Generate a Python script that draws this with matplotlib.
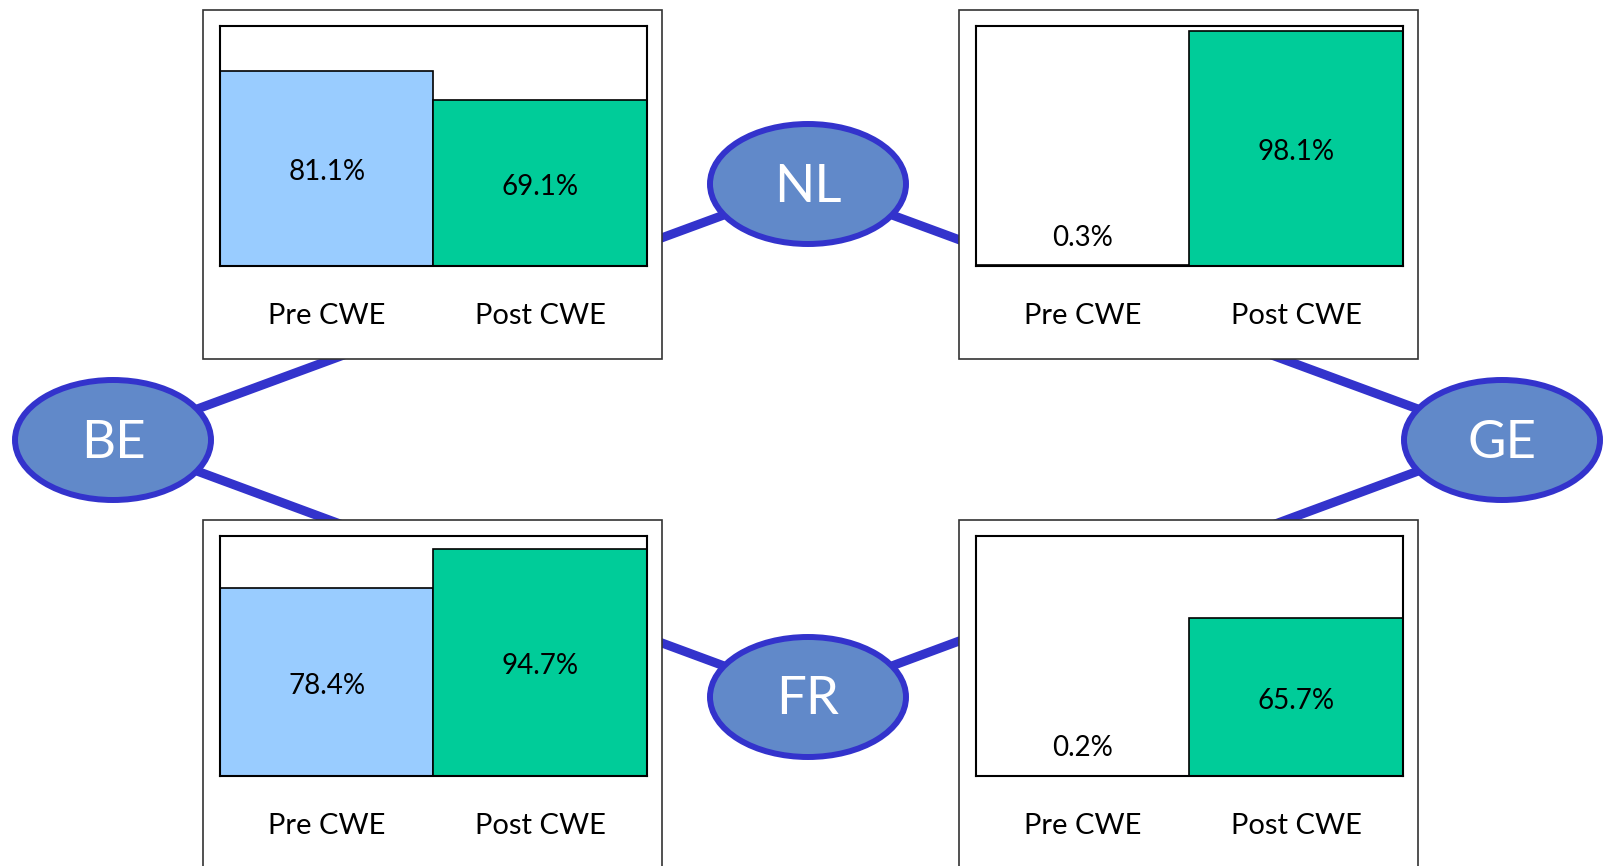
import matplotlib.pyplot as plt
from matplotlib.patches import Ellipse, Rectangle

# data
categories = ["Pre CWE", "Post CWE"]
panel_names = ["BE-NL", "NL-GE", "BE-FR", "FR-GE"]
pre_cwe = [81.1, 0.3, 78.4, 0.2]
post_cwe = [69.1, 98.1, 94.7, 65.7]
nodes = ["BE", "NL", "GE", "FR"]
links = [("BE", "NL"), ("NL", "GE"), ("GE", "FR"), ("FR", "BE")]

# layout (pixels)
W, H = 1608, 866
node_xy = {"BE": (113, 440), "NL": (808, 184), "GE": (1502, 440), "FR": (808, 697)}
panel_xy = [(203, 10), (959, 10), (203, 520), (959, 520)]  # outer box top-left
PANEL_W, PANEL_H = 459, 349
INNER_DX, INNER_DY, INNER_W, INNER_H = 17, 16, 427, 240

PRE_COLOR = "#99CCFF"
POST_COLOR = "#00CC99"
NODE_FILL = "#6189C9"
NODE_EDGE = "#3333CC"
FONT = ["Lato", "DejaVu Sans"]

fig = plt.figure(figsize=(W / 100, H / 100), dpi=100)
bg = fig.add_axes([0, 0, 1, 1])
bg.set_xlim(0, W)
bg.set_ylim(H, 0)
bg.axis("off")

for a, b in links:
    (x0, y0), (x1, y1) = node_xy[a], node_xy[b]
    bg.plot([x0, x1], [y0, y1], color=NODE_EDGE, lw=6.5, zorder=1, solid_capstyle="butt")

for px, py in panel_xy:
    bg.add_patch(Rectangle((px, py), PANEL_W, PANEL_H, facecolor="white",
                           edgecolor="#333333", lw=1.2, zorder=2))

for name in nodes:
    x, y = node_xy[name]
    bg.add_patch(Ellipse((x, y), 196, 120, facecolor=NODE_FILL,
                         edgecolor=NODE_EDGE, lw=4.3, zorder=3))
    bg.text(x, y + 3, name, color="white", fontsize=38, ha="center", va="center",
            family=FONT, zorder=4)


def draw_panel(px, py, pre, post):
    left = (px + INNER_DX) / W
    bottom = 1 - (py + INNER_DY + INNER_H) / H
    ax = fig.add_axes([left, bottom, INNER_W / W, INNER_H / H])
    vals = [pre, post]
    ax.bar([0, 1], vals, width=1.0, color=[PRE_COLOR, POST_COLOR],
           edgecolor="black", linewidth=1.2)
    ax.set_xlim(-0.5, 1.5)
    ax.set_ylim(0, 100)
    ax.set_yticks([])
    ax.set_xticks([0, 1])
    ax.set_xticklabels(categories, fontsize=21, family=FONT)
    ax.tick_params(axis="x", length=0, pad=27)
    for s in ax.spines.values():
        s.set_linewidth(1.5)
    for i, v in enumerate(vals):
        ax.text(i, max(v / 2, 13) - 1.5, f"{v:.1f}%", ha="center", va="center",
                fontsize=20, family=FONT)


for (px, py), pre, post in zip(panel_xy, pre_cwe, post_cwe):
    draw_panel(px, py, pre, post)

fig.savefig("out.png", dpi=100)
